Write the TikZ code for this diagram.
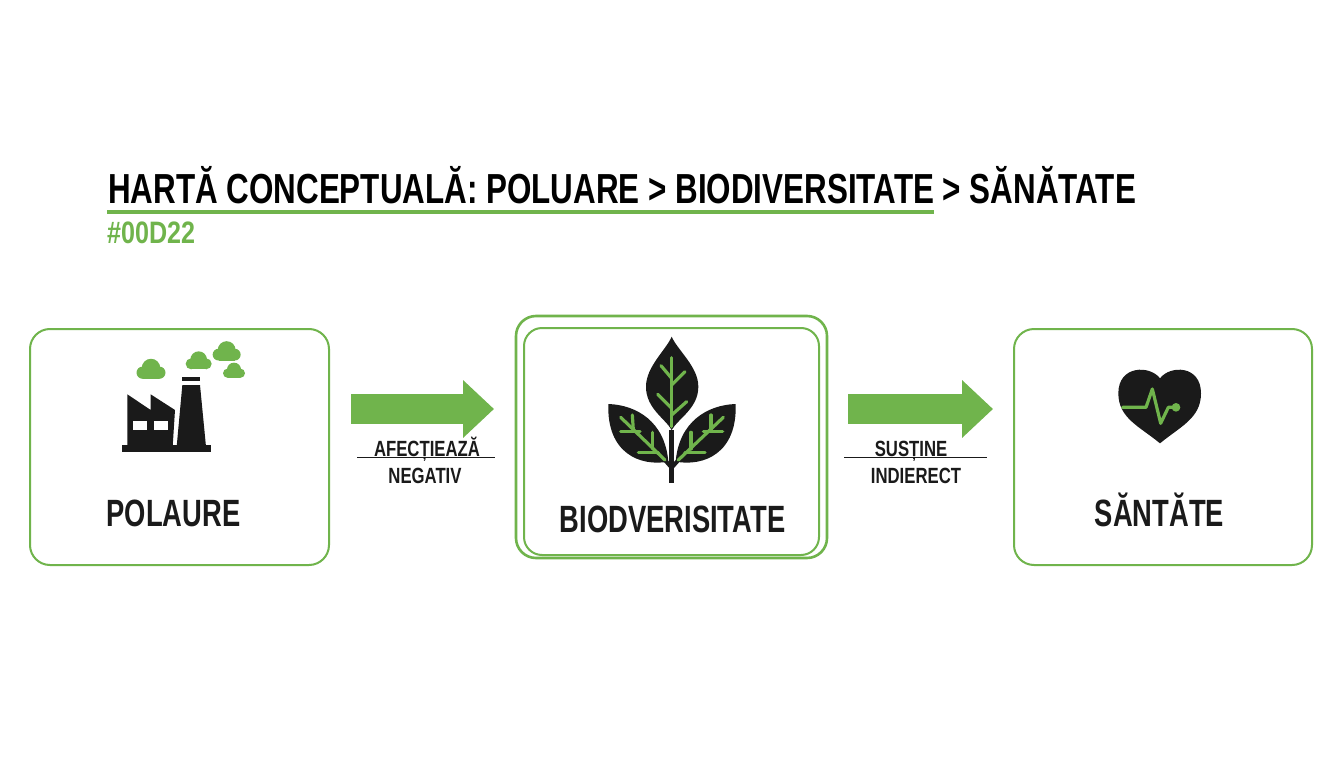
\documentclass[tikz,border=0pt]{standalone}
\usepackage{fontspec}
\setmainfont{Liberation Sans}
\newfontfamily\condfont[FakeStretch=0.72]{Liberation Sans}
\newfontfamily\titlefont[FakeStretch=0.747]{Liberation Sans}
\newfontfamily\codefont[FakeStretch=0.81]{Liberation Sans}
\newfontfamily\smallfont[FakeStretch=0.76]{Liberation Sans}
\usetikzlibrary{arrows.meta}
\definecolor{leafgreen}{HTML}{70B44C}
\definecolor{inkblack}{HTML}{1A1A1A}
\tikzset{
  panel/.style={draw=leafgreen,line width=2pt,rounded corners=20pt,fill=white,inner sep=0pt,outer sep=0pt},
  titletext/.style={anchor=base west,inner sep=0pt,font=\titlefont\bfseries\fontsize{42}{42}\selectfont,text=black},
  boxlabel/.style={anchor=base,inner sep=0pt,font=\condfont\bfseries\fontsize{38}{38}\selectfont,text=inkblack},
  arrowlabel/.style={anchor=base,inner sep=0pt,font=\smallfont\bfseries\fontsize{22}{22}\selectfont,text=inkblack},
  bigarrow/.style={draw=leafgreen,line width=30pt,line cap=butt,-{Triangle[length=31pt,width=56pt]}},
  vein/.style={draw=leafgreen,line width=3.2pt,line cap=round},
  cloud/.pic={
    \fill[leafgreen] (0,-0.18) circle (0.64);
    \fill[leafgreen] (-0.58,0.14) circle (0.42);
    \fill[leafgreen] (0.58,0.14) circle (0.42);
    \fill[leafgreen] (-0.58,0.1) rectangle (0.58,0.56);
  }
}
\begin{document}
\begin{tikzpicture}[line join=round,x=1pt,y=-1pt]
\useasboundingbox (0,0) rectangle (1344,768);
\fill[white] (0,0) rectangle (1344,768);
% title
\node[titletext] (title) at (108,203) {HARTĂ CONCEPTUALĂ: POLUARE > BIODIVERSITATE > SĂNĂTATE};
\coordinate (ruleleft) at (107,212);
\coordinate (ruleright) at (934,212);
\draw[leafgreen,line width=4.5pt] (ruleleft) -- (ruleright);
\node[titletext,text=leafgreen,font=\codefont\bfseries\fontsize{31}{31}\selectfont] (code) at (107,243.5) {\#00D22};
% boxes
\node[panel,minimum width=299pt,minimum height=236pt] (polaure) at (179.5,447) {};
\node[panel,line width=2.6pt,minimum width=311pt,minimum height=242pt] (biodouter) at (671.5,437) {};
\node[panel,minimum width=295pt,minimum height=227pt,rounded corners=18pt] (biodinner) at (671.5,441.5) {};
\node[panel,minimum width=298pt,minimum height=236pt] (santate) at (1163,447) {};
\node[boxlabel] (polaurelabel) at (173.5,526) {POLAURE};
\node[boxlabel] (biodlabel) at (672.5,532.5) {BIODVERISITATE};
\node[boxlabel] (santatelabel) at (1159.5,526) {SĂNTĂTE};
% arrows
\coordinate (arrowAstart) at (351,409);
\coordinate (arrowAend) at (494,409);
\coordinate (arrowBstart) at (848,409);
\coordinate (arrowBend) at (993,409);
\draw[bigarrow] (arrowAstart) -- (arrowAend);
\draw[bigarrow] (arrowBstart) -- (arrowBend);
\node[arrowlabel] (afect) at (427,456) {AFECȚIEAZĂ};
\node[arrowlabel] (negativ) at (425,483) {NEGATIV};
\node[arrowlabel] (sustine) at (911,456) {SUSȚINE};
\node[arrowlabel] (indirect) at (916,483) {INDIERECT};
\draw[inkblack,line width=1.4pt] (357,457.5) -- (495,457.5);
\draw[inkblack,line width=1.4pt] (844,457.5) -- (987,457.5);
% factory
\begin{scope}[shift={(100,330)},scale=1/3]
\fill[inkblack] (65,345) rectangle (332,365);
\fill[inkblack] (82,350) -- (82,193) -- (152,240) -- (152,193) -- (225,240) -- (218,350) -- cycle;
\fill[white] (100,272) rectangle (142,300);
\fill[white] (163,272) rectangle (205,300);
\fill[inkblack] (245,140) rectangle (300,153);
\fill[inkblack] (247,165) -- (300,165) -- (318,350) -- (230,350) -- cycle;
\path (153,122) pic[scale=14.5] {cloud};
\path (296,96) pic[scale=13] {cloud};
\path (380,68) pic[scale=14] {cloud};
\path (402,125) pic[scale=11] {cloud};
\end{scope}
% leaves
\begin{scope}[shift={(590,325)},scale=1/3]
\fill[inkblack] (245,35) .. controls (228,75) and (168,125) .. (168,185) .. controls (168,250) and (225,280) .. (245,315) .. controls (265,280) and (325,250) .. (325,185) .. controls (325,125) and (262,75) .. (245,35) -- cycle;
\fill[inkblack] (55,237) .. controls (140,240) and (225,290) .. (235,410) .. controls (150,425) and (50,385) .. (55,237) -- cycle;
\fill[inkblack] (437,237) .. controls (352,240) and (267,290) .. (257,410) .. controls (342,425) and (442,385) .. (437,237) -- cycle;
\draw[inkblack,line width=4.5pt] (245,315) -- (245,475);
\draw[inkblack,line width=4pt] (222,402) -- (245,428) -- (268,402);
\draw[vein] (245,98) -- (245,305);
\draw[vein] (213,122) -- (245,160);
\draw[vein] (285,140) -- (245,180);
\draw[vein] (203,208) -- (245,250);
\draw[vein] (290,230) -- (245,270);
\draw[vein] (225,405) -- (92,277);
\draw[vein] (127,270) -- (130,315);
\draw[vein] (92,320) -- (150,320);
\draw[vein] (187,322) -- (187,372);
\draw[vein] (145,383) -- (205,383);
\draw[vein] (265,405) -- (400,277);
\draw[vein] (363,270) -- (363,315);
\draw[vein] (398,320) -- (340,320);
\draw[vein] (303,322) -- (303,372);
\draw[vein] (345,383) -- (285,383);
\end{scope}
% heart
\begin{scope}[shift={(1100,355)},scale=1/3]
\fill[inkblack] (180,70) .. controls (150,30) and (55,30) .. (55,115) .. controls (55,190) and (120,215) .. (180,265) .. controls (240,215) and (303,190) .. (303,115) .. controls (303,30) and (210,30) .. (180,70) -- cycle;
\draw[vein] (68,157) -- (138,157) -- (157,102) -- (182,205) -- (205,157) -- (228,157);
\fill[leafgreen] (228,157) circle (13);
\end{scope}
\end{tikzpicture}
\end{document}
